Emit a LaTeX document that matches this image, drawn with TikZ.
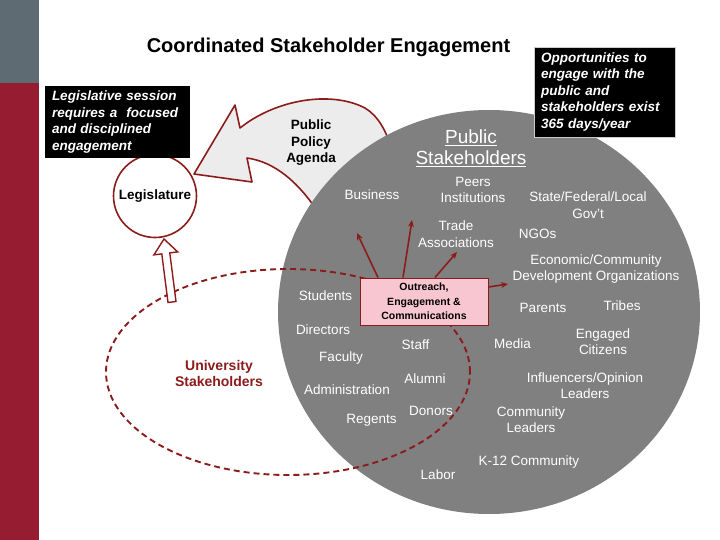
\documentclass[tikz,border=0pt]{standalone}
\usepackage{fontspec}
\setmainfont{Liberation Sans}
\usetikzlibrary{arrows.meta}
\definecolor{barGray}{RGB}{95,107,115}
\definecolor{barRed}{RGB}{150,28,50}
\definecolor{circGray}{RGB}{128,128,128}
\definecolor{dred}{RGB}{140,28,28}
\definecolor{pinkFill}{RGB}{248,198,208}
\definecolor{agendaFill}{RGB}{236,236,236}
\begin{document}
\begin{tikzpicture}[x=1pt,y=-1pt,
  wt/.style={text=white, font=\fontsize{13.5}{16.5}\selectfont, inner sep=0pt, align=center},
  bt/.style={font=\bfseries\fontsize{13.5}{16.5}\selectfont, inner sep=0pt, align=center},
  blackbox/.style={fill=black, text=white, font=\bfseries\itshape\fontsize{13.5}{16.5}\selectfont, align=left, inner xsep=7pt, inner ysep=0pt},
  redline/.style={draw=dred, line width=1.6pt},
  arr/.style={dred, line width=1.6pt, -{Stealth[length=7pt,width=6pt]}}]
\useasboundingbox (0,0) rectangle (720,540);
\fill[white] (0,0) rectangle (720,540);
\fill[barGray] (0,0) rectangle (39,83);
\fill[barRed] (0,83) rectangle (39,540);

% public policy agenda arrow shape
\filldraw[fill=agendaFill, redline, line join=round]
  (235,105) -- (240,128) .. controls (275,100) and (330,90) .. (365,108)
  .. controls (378,116) and (386,130) .. (392,150) -- (340,230) -- (318,212)
  .. controls (298,182) and (275,162) .. (247,158) -- (252,182) -- (194,174) -- cycle;

% public stakeholders circle
\fill[circGray] (489,312) ellipse [x radius=211pt, y radius=202pt];

% legislature
\node[circle, redline, fill=white, minimum size=83pt, inner sep=0pt, bt] (leg) at (155,196) {Legislature};

% university stakeholders dashed ellipse
\draw[dred, line width=1.9pt, dash pattern=on 6pt off 4pt] (288,372) ellipse [x radius=182pt, y radius=103pt];

% hollow arrow up to legislature
\filldraw[fill=white, draw=dred, line width=1.4pt, line join=miter]
  (168,302.5) -- (161.8,253.9) -- (153.9,254.9) -- (164,239) -- (177.7,251.9) -- (169.8,252.9) -- (176,301.5) -- cycle;

% outreach box
\node[draw=dred, fill=pinkFill, line width=1pt, minimum width=128pt, minimum height=47pt,
  font=\bfseries\fontsize{10.5}{14.5}\selectfont, align=center, inner sep=0pt] (oec) at (424,301.5)
  {Outreach,\\Engagement \&\\Communications};

\coordinate (a1) at (357,233);
\coordinate (a2) at (412,220);
\coordinate (a3) at (457,252);
\coordinate (a4) at (508,284);
\draw[arr] ([xshift=-46pt]oec.north) -- (a1);
\draw[arr] ([xshift=-21pt]oec.north) -- (a2);
\draw[arr] ([xshift=11pt]oec.north) -- (a3);
\draw[arr] ([yshift=14.5pt]oec.east) -- (a4);

% texts
\node[font=\bfseries\fontsize{20}{22}\selectfont, inner sep=0pt] (title) at (328.5,47) {Coordinated Stakeholder Engagement};
\node[bt] (ppa) at (311,143) {Public\\Policy\\Agenda};
\node[text=white, font=\fontsize{19}{21}\selectfont, align=center, inner sep=0pt] (pubst) at (471,148) {\underline{Public}\\\underline{Stakeholders}};
\node[bt, text=dred, font=\bfseries\fontsize{14}{16}\selectfont] (univ) at (219,373) {University\\Stakeholders};

\node[wt] (business) at (372,195) {Business};
\node[wt] (peers) at (473,190) {Peers\\Institutions};
\node[wt] (gov) at (588,205) {State/Federal/Local\\Gov't};
\node[wt] (trade) at (456,234) {Trade\\Associations};
\node[wt] (ngos) at (537.5,234) {NGOs};
\node[wt] (econ) at (596,269) {Economic/Community\\Development Organizations};
\node[wt] (parents) at (543,308) {Parents};
\node[wt] (tribes) at (622,306) {Tribes};
\node[wt] (media) at (512.5,344) {Media};
\node[wt] (citizens) at (603,341.5) {Engaged\\Citizens};
\node[wt] (influ) at (585,385.5) {Influencers/Opinion\\Leaders};
\node[wt] (comm) at (531,419.5) {Community\\Leaders};
\node[wt] (k12) at (529,462) {K-12 Community};
\node[wt] (labor) at (438,475) {Labor};
\node[wt] (students) at (325.5,296) {Students};
\node[wt] (directors) at (323,330) {Directors};
\node[wt] (staff) at (415.5,345) {Staff};
\node[wt] (faculty) at (341,358) {Faculty};
\node[wt] (alumni) at (425,379) {Alumni};
\node[wt] (admin) at (347,390) {Administration};
\node[wt] (donors) at (431,411) {Donors};
\node[wt] (regents) at (371.5,420) {Regents};

% black callouts
\node[blackbox, text width=131pt, minimum height=72pt] (lbox) at (117.5,122)
  {Legislative session\\requires a\ \ focused\\and disciplined\\engagement};
\node[blackbox, draw=gray!40, line width=0.6pt, text width=127pt, minimum height=90pt] (rbox) at (604.5,92)
  {Opportunities to\\engage with the\\public and\\stakeholders exist\\365 days/year};
\end{tikzpicture}
\end{document}
